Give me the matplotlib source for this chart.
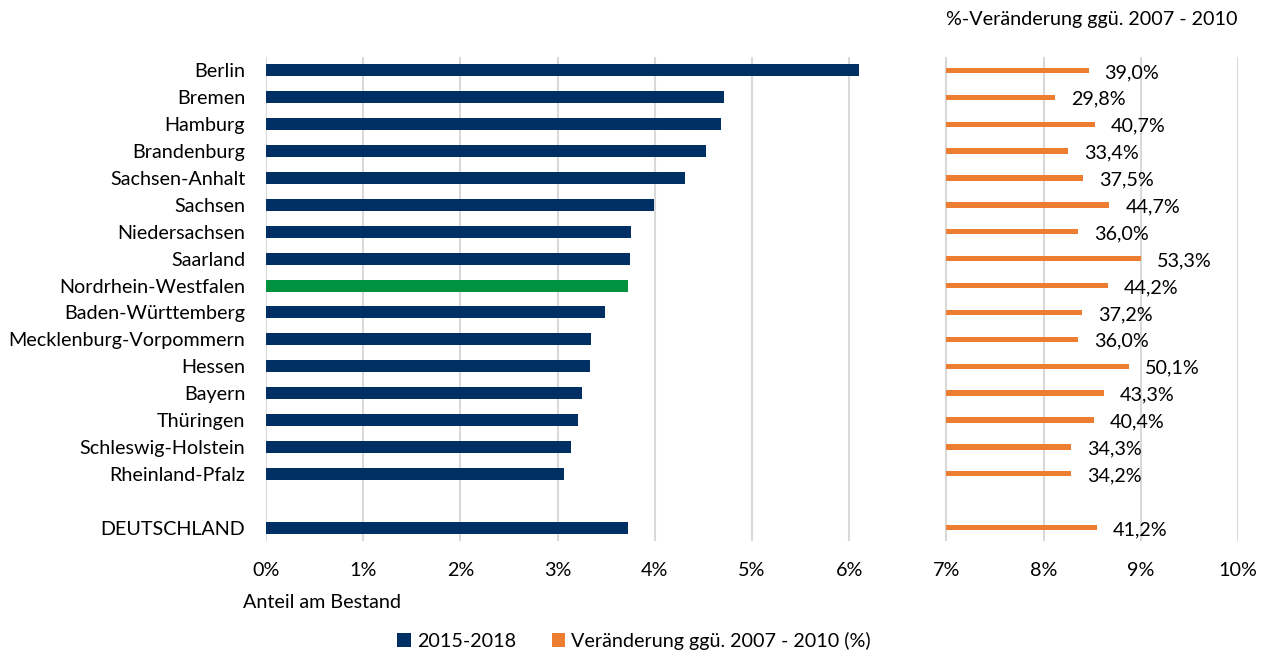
import matplotlib
matplotlib.use("Agg")
import matplotlib.pyplot as plt
from matplotlib.patches import Patch

plt.rcParams['font.family'] = ['Lato', 'DejaVu Sans']

regions = ["Berlin", "Bremen", "Hamburg", "Brandenburg", "Sachsen-Anhalt", "Sachsen",
           "Niedersachsen", "Saarland", "Nordrhein-Westfalen", "Baden-Württemberg",
           "Mecklenburg-Vorpommern", "Hessen", "Bayern", "Thüringen",
           "Schleswig-Holstein", "Rheinland-Pfalz", "", "DEUTSCHLAND"]
share_2015_2018 = [6.10, 4.71, 4.68, 4.53, 4.31, 3.99, 3.76, 3.74, 3.72, 3.49,
                   3.34, 3.33, 3.25, 3.21, 3.14, 3.07, None, 3.72]
change_pct = [39.0, 29.8, 40.7, 33.4, 37.5, 44.7, 36.0, 53.3, 44.2, 37.2,
              36.0, 50.1, 43.3, 40.4, 34.3, 34.2, None, 41.2]
change_labels = ["39,0%", "29,8%", "40,7%", "33,4%", "37,5%", "44,7%", "36,0%", "53,3%",
                 "44,2%", "37,2%", "36,0%", "50,1%", "43,3%", "40,4%", "34,3%", "34,2%",
                 "", "41,2%"]
x_ticks = [0, 1, 2, 3, 4, 5, 6, 7, 8, 9, 10]
x_tick_labels = ["0%", "1%", "2%", "3%", "4%", "5%", "6%", "7%", "8%", "9%", "10%"]

BLUE = "#003063"
GREEN = "#00923F"
ORANGE = "#ED7D31"
ORANGE_BASE = 7.0        # orange bars start at the 7% gridline
ORANGE_SCALE = 0.0375    # axis units per percentage point of change
FS = 14.2

fig = plt.figure(figsize=(12.66, 6.53), dpi=100)
W, H = 1266, 653
left, right, top, bottom = 266, 1238, 57, 541
ax = fig.add_axes([left / W, 1 - bottom / H, (right - left) / W, (bottom - top) / H])

for i, (name, v, c, lab) in enumerate(zip(regions, share_2015_2018, change_pct, change_labels)):
    if v is None:
        continue
    col = GREEN if name == "Nordrhein-Westfalen" else BLUE
    ax.barh(i, v, height=0.45, color=col, zorder=3)
    length = c * ORANGE_SCALE
    ax.barh(i, length, left=ORANGE_BASE, height=0.2, color=ORANGE, zorder=3)
    ax.annotate(lab, xy=(ORANGE_BASE + length, i), xytext=(16, -2),
                textcoords="offset pixels", ha="left", va="center",
                fontsize=FS, color="#000000")

ax.set_xlim(0, 10)
ax.set_ylim(len(regions) - 0.5, -0.5)
ax.set_xticks(x_ticks)
ax.set_xticklabels(x_tick_labels, fontsize=FS)
ax.set_yticks(range(len(regions)))
ax.set_yticklabels(regions, fontsize=FS)
ax.tick_params(axis="both", length=0)
ax.tick_params(axis="x", pad=15)
ax.tick_params(axis="y", pad=15)
ax.grid(axis="x", color="#D9D9D9", linewidth=1.5, zorder=0)
for s in ax.spines.values():
    s.set_visible(False)

fig.text(243 / W, 1 - 603 / H, "Anteil am Bestand", fontsize=FS, ha="left", va="center")
fig.text(1238 / W, 1 - 20 / H, "%-Veränderung ggü. 2007 - 2010", fontsize=FS,
         ha="right", va="center")

handles = [Patch(facecolor=BLUE, label="2015-2018"),
           Patch(facecolor=ORANGE, label="Veränderung ggü. 2007 - 2010 (%)")]
fig.legend(handles=handles, loc="center", bbox_to_anchor=(634 / W, 1 - 641 / H),
           ncol=2, frameon=False, fontsize=FS, handlelength=0.7, handleheight=0.7,
           handletextpad=0.3, columnspacing=1.8)

fig.savefig("out.png", dpi=100)
